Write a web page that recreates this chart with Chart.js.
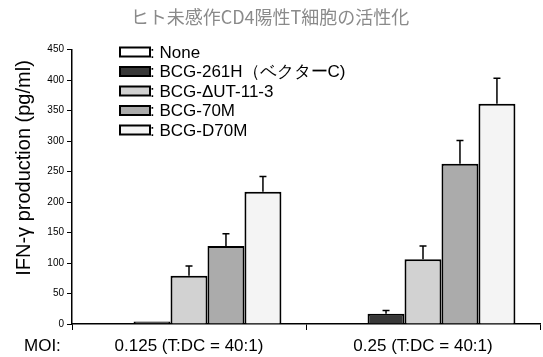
<!DOCTYPE html>
<html>
<head>
<meta charset="utf-8">
<script src="https://cdn.jsdelivr.net/npm/chart.js@4"></script>
<style>
  html, body { margin: 0; padding: 0; background: #fff; }
  #wrap { width: 543px; height: 357px; }
</style>
</head>
<body>
<div id="wrap"><canvas id="c" width="543" height="357"></canvas></div>
<script>
// ---- DATA ----
var categories = ['0.125 (T:DC = 40:1)', '0.25 (T:DC = 40:1)'];
var seriesNames = [': None', ': BCG-261H（ベクターC)', ': BCG-ΔUT-11-3', ': BCG-70M', ': BCG-D70M'];
var valNone = [1, 1];
var val261H = [4, 17];
var valDUT  = [79, 106];
var val70M  = [128, 263];
var valD70M = [217, 361];
var errNone = [0, 0];
var err261H = [0, 5];
var errDUT  = [16, 22];
var err70M  = [20, 38];
var errD70M = [25, 42];
var yTicks  = [0, 50, 100, 150, 200, 250, 300, 350, 400, 450];

var fills = ['#ffffff', '#383838', '#d2d2d2', '#ababab', '#f4f4f4'];
var LATIN = '"Liberation Sans", Arial, sans-serif';

// ---- PLUGIN: barras de erro (só para cima) ----
var errorBars = {
  id: 'errorBars',
  afterDatasetsDraw: function(chart) {
    var ctx = chart.ctx, y = chart.scales.y;
    ctx.save();
    ctx.strokeStyle = '#000';
    ctx.lineWidth = 1.5;
    chart.data.datasets.forEach(function(ds, i) {
      var meta = chart.getDatasetMeta(i);
      meta.data.forEach(function(bar, j) {
        var e = ds.err[j];
        if (!e) return;
        var top = y.getPixelForValue(ds.data[j] + e);
        ctx.beginPath();
        ctx.moveTo(bar.x, bar.y);
        ctx.lineTo(bar.x, top);
        ctx.moveTo(bar.x - 3.5, top);
        ctx.lineTo(bar.x + 3.5, top);
        ctx.stroke();
      });
    });
    ctx.restore();
  }
};

// ---- PLUGIN: legenda dentro do gráfico, título do eixo Y e "MOI:" ----
var boxLegend = {
  id: 'boxLegend',
  afterDraw: function(chart) {
    var ctx = chart.ctx;
    ctx.save();
    chart.data.datasets.forEach(function(ds, i) {
      var cy = 52 + i * 19.5;
      ctx.fillStyle = ds.backgroundColor;
      ctx.fillRect(120, cy - 4.5, 30, 9);
      ctx.strokeStyle = '#000';
      ctx.lineWidth = 2;
      ctx.strokeRect(120, cy - 4.5, 30, 9);
      ctx.fillStyle = '#000';
      ctx.font = '17px ' + LATIN;
      ctx.textBaseline = 'middle';
      ctx.textAlign = 'left';
      ctx.fillText(ds.label, 150, cy + 1);
    });
    ctx.font = '17px ' + LATIN;
    ctx.fillText('MOI:', 24, 346);
    // título do eixo Y
    ctx.translate(24, 168);
    ctx.rotate(-Math.PI / 2);
    ctx.textAlign = 'center';
    ctx.font = '20px ' + LATIN;
    ctx.fillText('IFN-γ production (pg/ml)', 0, 0);
    ctx.restore();
  }
};

var allVals = [valNone, val261H, valDUT, val70M, valD70M];
var allErrs = [errNone, err261H, errDUT, err70M, errD70M];

new Chart(document.getElementById('c'), {
  type: 'bar',
  data: {
    labels: categories,
    datasets: allVals.map(function(v, i) {
      return {
        label: seriesNames[i], data: v, err: allErrs[i],
        backgroundColor: fills[i], borderColor: '#000', borderWidth: 2,
        borderSkipped: 'bottom', barPercentage: 1, categoryPercentage: 0.79
      };
    })
  },
  options: {
    responsive: false,
    animation: false,
    layout: { padding: { left: 0, right: 3, top: 0, bottom: 0 } },
    plugins: {
      legend: { display: false },
      tooltip: { enabled: false },
      title: {
        display: true,
        text: 'ヒト未感作CD4陽性T細胞の活性化',
        color: '#8a8a8a',
        font: { family: '"Noto Sans CJK JP"', size: 18, weight: 'normal' },
        padding: { top: 6, bottom: 22 }
      }
    },
    scales: {
      x: {
        grid: { drawOnChartArea: false, tickLength: 6, color: '#000', offset: true },
        border: { color: '#000', width: 1.5 },
        ticks: { color: '#000', font: { family: LATIN, size: 17 }, padding: 6 },
        afterFit: function(s) { s.height = 33; }
      },
      y: {
        min: 0, max: 450,
        afterBuildTicks: function(s) { s.ticks = yTicks.map(function(v) { return { value: v }; }); },
        grid: { drawOnChartArea: false, tickLength: 5, color: '#000' },
        border: { color: '#000', width: 1.5 },
        ticks: { color: '#000', font: { family: LATIN, size: 10 }, padding: 3 },
        afterFit: function(s) { s.width = 72; }
      }
    }
  },
  plugins: [errorBars, boxLegend]
});
</script>
</body>
</html>
